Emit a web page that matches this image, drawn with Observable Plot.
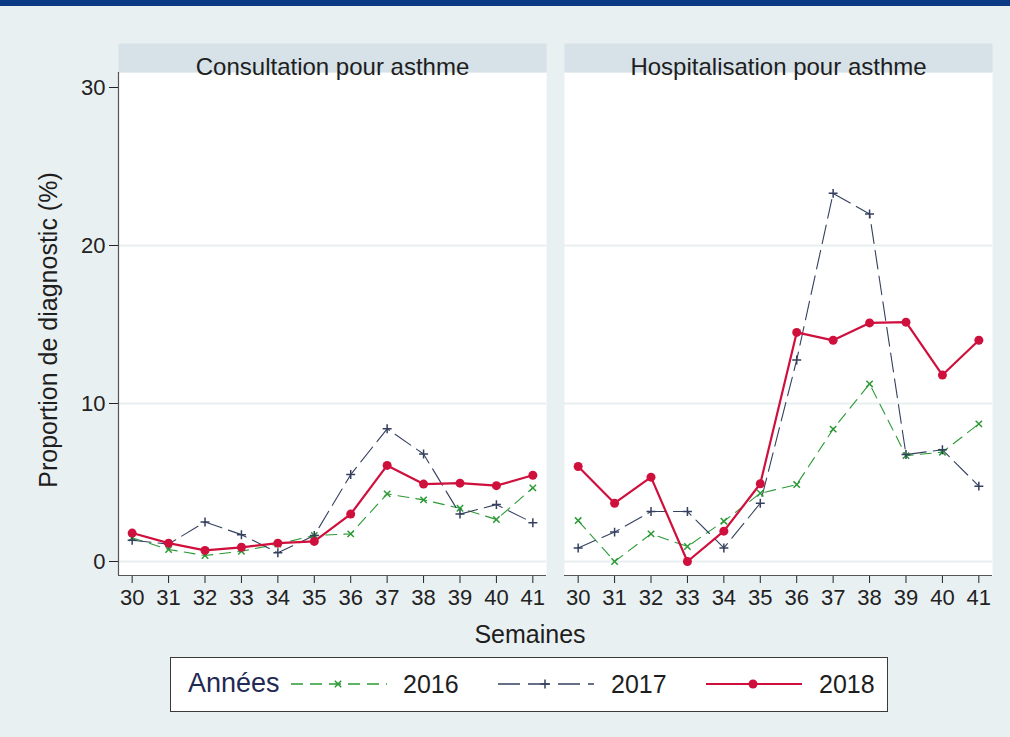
<!DOCTYPE html>
<html>
<head>
<meta charset="utf-8">
<script src="https://cdn.jsdelivr.net/npm/d3@7"></script>
<script src="https://cdn.jsdelivr.net/npm/@observablehq/plot@0.6"></script>
<style>
  html, body { margin: 0; padding: 0; }
  body { width: 1010px; height: 737px; background: #e9f0f2; position: relative; overflow: hidden;
         font-family: "Liberation Sans", Arial, sans-serif; }
  #topbar { position: absolute; left: 0; top: 0; width: 1010px; height: 6px; background: #0b3a84; z-index: 2; }
  #chart { position: absolute; left: 0; top: 0; }
  #xlabel { position: absolute; left: 430px; width: 200px; top: 620px; text-align: center; font-size: 25px; color: #1e1e1e; }
  #ylabel { position: absolute; left: 48px; top: 330px; width: 400px; margin-left: -200px; margin-top: -15px; height: 30px; line-height: 30px;
            text-align: center; font-size: 25px; color: #1e1e1e; transform: rotate(-90deg); white-space: nowrap; }
  #legend { position: absolute; left: 170px; top: 657px; width: 716px; height: 53px; background: #fff; border: 1.5px solid #3a3a3a; }
  #legend .t { position: absolute; top: 12px; font-size: 25px; color: #1e1e1e; line-height: 28px; }
  #legend svg { position: absolute; top: 16px; }
</style>
</head>
<body>
<div id="topbar"></div>
<div id="chart"></div>
<div id="ylabel">Proportion de diagnostic (%)</div>
<div id="xlabel">Semaines</div>
<div id="legend"></div>
<script>
// ---- data ----
const panels = ["Consultation pour asthme", "Hospitalisation pour asthme"];
const weeks = [30, 31, 32, 33, 34, 35, 36, 37, 38, 39, 40, 41];
const years = ["2016", "2017", "2018"];
const yTicks = [0, 10, 20, 30];

const consult2016 = [1.5, 0.76, 0.38, 0.65, 1.1, 1.65, 1.75, 4.28, 3.9, 3.37, 2.66, 4.66];
const consult2017 = [1.35, 1.1, 2.5, 1.7, 0.55, 1.65, 5.5, 8.4, 6.8, 3.0, 3.6, 2.45];
const consult2018 = [1.8, 1.16, 0.7, 0.9, 1.16, 1.27, 3.0, 6.08, 4.9, 4.96, 4.8, 5.46];

const hosp2016 = [2.59, 0, 1.75, 0.95, 2.55, 4.32, 4.87, 8.38, 11.24, 6.7, 6.92, 8.71];
const hosp2017 = [0.86, 1.86, 3.16, 3.16, 0.86, 3.69, 12.76, 23.3, 22.0, 6.77, 7.07, 4.77];
const hosp2018 = [6.01, 3.69, 5.34, 0, 1.92, 4.92, 14.5, 14.0, 15.1, 15.15, 11.8, 14.0];

const seriesByPanel = [
  [consult2016, consult2017, consult2018],
  [hosp2016, hosp2017, hosp2018]
];

const rows = [];
panels.forEach((p, pi) => {
  years.forEach((yr, yi) => {
    weeks.forEach((w, wi) => rows.push({panel: p, year: yr, week: w, value: seriesByPanel[pi][yi][wi]}));
  });
});

// ---- styles ----
const colors = {"2016": "#2b9a35", "2017": "#34405e", "2018": "#cf0f3c"};
const dashes = {"2016": "11,7", "2017": "19,7", "2018": null};
const headerFill = "#d6e1e8";
const gridColor = "#e8eff1";
const axisColor = "#555";

const xDomain = [29.625, 41.375];
const yDomain = [-0.886, 30.95];

const byYear = yr => rows.filter(d => d.year === yr);

const chart = Plot.plot({
  width: 1010,
  height: 650,
  marginLeft: 118,
  marginRight: 18,
  marginTop: 72,
  marginBottom: 75,
  style: {background: "transparent", fontFamily: "'Liberation Sans', Arial, sans-serif", fontSize: "22px", color: "#222"},
  fx: {domain: panels, padding: 0.0404, paddingOuter: 0, axis: null, label: null},
  x: {domain: xDomain, ticks: weeks, tickSize: 8, tickPadding: 6, tickFormat: d => String(d), label: null},
  y: {domain: yDomain, ticks: yTicks, tickSize: 9, tickPadding: 4, label: null},
  marks: [
    Plot.frame({fill: "white"}),
    Plot.frame({fill: headerFill, insetTop: -29, insetBottom: 503}),
    Plot.text(panels, {fx: d => d, text: d => d, frameAnchor: "top", dy: -14.5, fontSize: 24, fill: "#1e1e1e"}),
    Plot.ruleY(yTicks.slice(0, 3), {stroke: gridColor, strokeWidth: 2}),
    Plot.ruleY([yDomain[0]], {stroke: axisColor, strokeWidth: 1.2}),
    Plot.ruleX([{panel: panels[0], x: xDomain[0]}], {x: "x", fx: "panel", stroke: axisColor, strokeWidth: 1.2}),
    ...years.map(yr => Plot.line(byYear(yr), {
      x: "week", y: "value", fx: "panel",
      stroke: colors[yr],
      strokeWidth: yr === "2018" ? 2.2 : 1.1,
      strokeDasharray: dashes[yr],
      curve: "linear"
    })),
    Plot.dot(byYear("2016"), {x: "week", y: "value", fx: "panel", symbol: "times", r: 3, stroke: colors["2016"], strokeWidth: 1.5}),
    Plot.dot(byYear("2017"), {x: "week", y: "value", fx: "panel", symbol: "plus", r: 3, stroke: colors["2017"], strokeWidth: 1.5}),
    Plot.dot(byYear("2018"), {x: "week", y: "value", fx: "panel", r: 4.5, fill: colors["2018"], stroke: "none"})
  ]
});
document.getElementById("chart").appendChild(chart);

// ---- legend ----
const legend = document.getElementById("legend");
const legendTitle = document.createElement("div");
legendTitle.className = "t";
legendTitle.style.left = "17px";
legendTitle.style.color = "#1f2a55";
legendTitle.style.fontSize = "27px";
legendTitle.style.top = "11px";
legendTitle.textContent = "Années";
legend.appendChild(legendTitle);
const sampleLeft = [120, 327, 535];
const labelLeft = [232, 440, 648];
years.forEach((yr, i) => {
  const sw = d3.create("svg").attr("width", 96).attr("height", 20).style("left", sampleLeft[i] + "px");
  sw.append("line").attr("x1", 0).attr("x2", 96).attr("y1", 10).attr("y2", 10)
    .attr("stroke", colors[yr]).attr("stroke-width", yr === "2018" ? 2 : 1.3)
    .attr("stroke-dasharray", yr === "2016" ? "12,7" : yr === "2017" ? "22,8" : null);
  if (yr === "2018") sw.append("circle").attr("cx", 47).attr("cy", 10).attr("r", 4.5).attr("fill", colors[yr]);
  else sw.append("path").attr("d", d3.symbol(yr === "2016" ? d3.symbolTimes : d3.symbolPlus, 28)())
    .attr("transform", "translate(47,10)").attr("fill", "none").attr("stroke", colors[yr]).attr("stroke-width", 1.5);
  legend.appendChild(sw.node());
  const t = document.createElement("div");
  t.className = "t";
  t.style.left = labelLeft[i] + "px";
  t.textContent = yr;
  legend.appendChild(t);
});
</script>
</body>
</html>
